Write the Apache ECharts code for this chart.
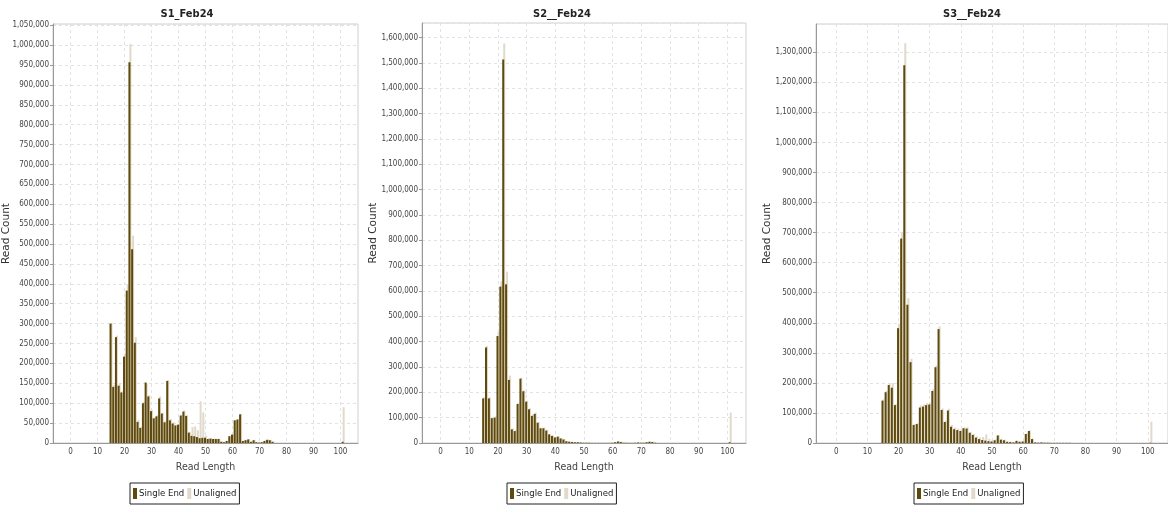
<!DOCTYPE html>
<html>
<head>
<meta charset="utf-8">
<script src="https://cdn.jsdelivr.net/npm/echarts@6/dist/echarts.min.js"></script>
<style>
  html, body { margin: 0; padding: 0; background: #fff; }
  #main { width: 1168px; height: 512px; }
</style>
</head>
<body>
<div id="main"></div>
<script>
// read lengths that carry counts (all other lengths are 0)
var lengths = [15,16,17,18,19,20,21,22,23,24,
               25,26,27,28,29,30,31,32,33,34,
               35,36,37,38,39,40,41,42,43,44,
               45,46,47,48,49,50,51,52,53,54,
               55,56,57,58,59,60,61,62,63,64,
               65,66,67,68,69,70,71,72,73,74,
               75,
               101];

// read counts, in thousands
var s1Single = [300,141,266,144,127,217,383,957,487,252,
                53,38,100,152,117,80,62,67,112,74,
                52,156,57,49,44,46,69,79,68,26,
                18,17,15,12,13,13,10,11,10,10,
                10,3,2,5,17,21,57,59,72,5,
                7,9,3,7,2,1,2,5,8,7,
                3,
                3];
var s1Unaligned = [302,146,270,150,130,224,397,1003,521,266,
                   58,40,104,150,120,83,64,70,117,76,
                   55,158,60,52,46,48,71,82,70,28,
                   40,42,32,105,77,18,12,12,11,11,
                   11,4,3,6,18,22,58,60,73,6,
                   8,10,4,8,3,2,3,7,9,8,
                   4,
                   90];

var s2Single = [176,377,176,98,100,422,617,1513,626,249,
                54,47,154,254,204,163,133,107,115,80,
                58,58,49,34,28,22,25,18,14,7,
                5,4,3,3,2,1,1,1,0.5,0.5,
                0.5,0.5,0.5,0.5,0.5,1,3,6,4,1,
                1,0.5,0.5,1,2,1,1,3,5,4,
                1,
                3];
var s2Unaligned = [180,382,180,102,105,438,638,1576,676,266,
                   57,50,158,258,208,167,137,112,120,83,
                   61,61,52,36,30,24,27,20,15,8,
                   6,5,4,4,3,2,2,1,1,1,
                   1,1,1,1,1,2,4,7,5,2,
                   1,1,1,2,3,2,2,4,6,5,
                   2,
                   120];

var s3Single = [141,169,193,184,126,382,680,1257,460,269,
                60,63,118,121,126,128,173,252,379,110,
                70,108,54,46,43,40,49,48,34,27,
                18,13,10,8,6,5,9,25,11,9,
                4,3,2,7,4,5,30,40,13,2,
                1,2,1,1,0.5,0.5,0.5,0.5,0.5,0.5,
                0.5,
                1];
var s3Unaligned = [145,174,199,200,130,397,699,1330,482,280,
                   63,66,125,128,133,133,180,258,388,115,
                   74,114,60,52,48,45,52,52,37,30,
                   22,18,20,29,14,9,12,27,13,11,
                   5,4,3,8,5,6,32,42,15,3,
                   2,3,2,2,1,1,1,1,1,1,
                   1,
                   71];

var titles = ['S1_Feb24', 'S2__Feb24', 'S3__Feb24'];
var xTicks = [0,10,20,30,40,50,60,70,80,90,100];
var yStep = [50000, 100000, 100000];
var yMax = [1053000, 1657000, 1394000];

var xMin = -6, xMax = 106;
var cats = [];
for (var c = xMin; c <= xMax; c++) cats.push(String(c));

function toBars(vals) {
  var d = cats.map(function () { return 0; });
  lengths.forEach(function (len, i) { d[len - xMin] = vals[i] * 1000; });
  return d;
}

var DARK = '#5e4a0c', LIGHT = '#e2d9ca';
var narrow = "'Liberation Sans Narrow', 'DejaVu Sans Condensed', sans-serif";
var isTick = function (idx, val) { return xTicks.indexOf(Number(val)) >= 0; };

// layout of the three panels
var panels = [
  { single: s1Single, unal: s1Unaligned, left: 53,  width: 305, top: 24, height: 419, titleX: 182, legendX: 130, nameGap: 41 },
  { single: s2Single, unal: s2Unaligned, left: 422, width: 324, top: 23, height: 420, titleX: 557, legendX: 507, nameGap: 43 },
  { single: s3Single, unal: s3Unaligned, left: 816, width: 355, top: 24, height: 419, titleX: 967, legendX: 914, nameGap: 43 }
];

var option = { animation: false, backgroundColor: '#fff', title: [], legend: [], grid: [], xAxis: [], yAxis: [], series: [] };

panels.forEach(function (p, i) {
  option.title.push({
    text: titles[i], left: p.titleX, top: 4, textAlign: 'center',
    textStyle: { fontFamily: narrow, fontSize: 11, fontWeight: 'bold', color: '#222' }
  });
  option.legend.push({
    data: ['Single End', 'Unaligned'], left: p.legendX, top: 483,
    orient: 'horizontal', icon: 'rect', itemWidth: 4, itemHeight: 11, itemGap: 3,
    padding: [5, 3], borderColor: '#222', borderWidth: 1, selectedMode: false,
    textStyle: { fontFamily: narrow, fontSize: 9.5, color: '#222', padding: [0, 0, 0, -3] }
  });
  option.grid.push({
    left: p.left, top: p.top, width: p.width, height: p.height,
    show: true, borderColor: '#cfcfcf', borderWidth: 1, backgroundColor: '#fff'
  });
  option.xAxis.push({
    type: 'category', gridIndex: i, data: cats, boundaryGap: true,
    name: 'Read Length', nameLocation: 'middle', nameGap: 19, nameMoveOverlap: false,
    nameTextStyle: { fontFamily: narrow, fontSize: 10.5, color: '#444' },
    axisLine: { lineStyle: { color: '#999' } },
    axisTick: { alignWithLabel: true, interval: isTick, length: 3, lineStyle: { color: '#999' } },
    axisLabel: { interval: isTick, margin: 5, fontFamily: narrow, fontSize: 8, color: '#444' },
    splitLine: { show: true, alignWithLabel: true, interval: isTick, lineStyle: { type: [3, 3], color: '#e2e2e2' } }
  });
  option.yAxis.push({
    type: 'value', gridIndex: i, min: 0, max: yMax[i], interval: yStep[i],
    name: 'Read Count', nameLocation: 'middle', nameGap: p.nameGap, nameMoveOverlap: false,
    nameTextStyle: { fontFamily: 'DejaVu Sans', fontSize: 10.5, color: '#333' },
    axisLine: { show: true, lineStyle: { color: '#999' } },
    axisTick: { show: true, length: 3, lineStyle: { color: '#999' } },
    axisLabel: {
      showMaxLabel: false, margin: 4, fontFamily: narrow, fontSize: 8, color: '#444',
      formatter: function (v) { return v.toLocaleString('en-US'); }
    },
    splitLine: { show: true, lineStyle: { type: [3, 3], color: '#e2e2e2' } }
  });
  option.series.push({
    name: 'Single End', type: 'bar', xAxisIndex: i, yAxisIndex: i, z: 3,
    data: toBars(p.single), barWidth: 2, barGap: '-50%',
    itemStyle: { color: DARK }
  });
  option.series.push({
    name: 'Unaligned', type: 'bar', xAxisIndex: i, yAxisIndex: i, z: 2,
    data: toBars(p.unal), barWidth: 2,
    itemStyle: { color: LIGHT }
  });
});

var myChart = echarts.init(document.getElementById('main'));
myChart.setOption(option);
</script>
</body>
</html>
